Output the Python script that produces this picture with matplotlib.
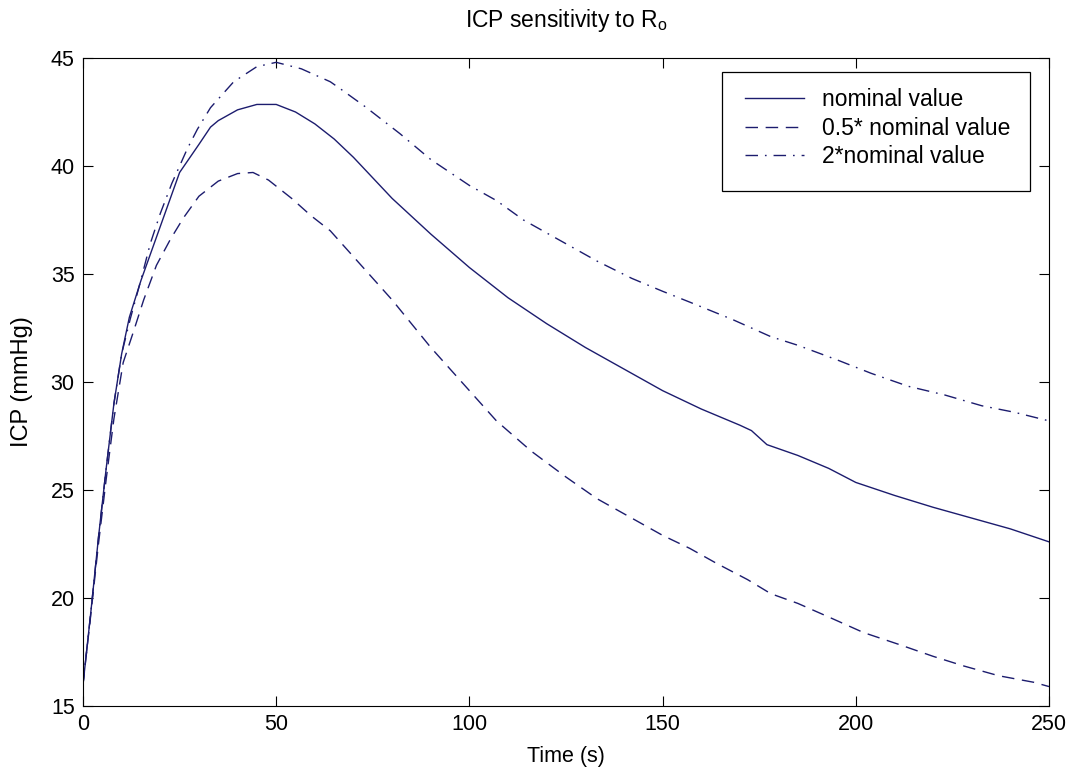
import matplotlib
matplotlib.use("Agg")
import matplotlib.pyplot as plt
from matplotlib.patches import Rectangle

plt.rcParams['font.family'] = ['Liberation Sans', 'DejaVu Sans']
plt.rcParams['mathtext.fontset'] = 'custom'
plt.rcParams['mathtext.rm'] = 'Liberation Sans'
plt.rcParams['mathtext.it'] = 'Liberation Sans'

# ---- data ----
t_nominal = [0, 2, 4, 6, 8, 10, 12, 15, 18, 21, 25, 30, 33, 35, 40, 45, 50, 55, 60, 65,
             70, 80, 90, 100, 110, 120, 130, 140, 150, 160, 170, 173, 177, 185, 193,
             200, 210, 220, 230, 240, 250]
icp_nominal = [16.0, 19.3, 22.8, 26.0, 29.0, 31.3, 33.0, 34.7, 36.2, 37.7, 39.7, 41.0, 41.8,
               42.1, 42.6, 42.85, 42.85, 42.5, 41.95, 41.25, 40.4, 38.5, 36.85, 35.3, 33.9,
               32.7, 31.6, 30.6, 29.6, 28.75, 28.0, 27.75, 27.1, 26.6, 26.0, 25.35, 24.75,
               24.2, 23.7, 23.2, 22.6]

t_half = [0, 2, 4, 6, 8, 10.4, 13, 15.7, 19, 22.6, 26, 30, 35, 40, 44, 48, 54, 59, 64,
          70, 80, 90, 100, 107, 116, 125, 133, 142, 150, 157, 164, 172, 178, 185,
          194, 202, 211, 220, 228, 237, 246, 250]
icp_half = [16.0, 19.2, 22.5, 25.5, 28.3, 30.9, 32.3, 33.8, 35.4, 36.6, 37.6, 38.6, 39.3,
            39.65, 39.7, 39.35, 38.5, 37.7, 37.0, 35.8, 33.8, 31.6, 29.6, 28.2, 26.8,
            25.6, 24.6, 23.7, 22.9, 22.3, 21.6, 20.85, 20.2, 19.75, 19.04, 18.4, 17.86,
            17.3, 16.85, 16.4, 16.1, 15.9]

t_double = [0, 2, 4, 6, 8, 10, 12.2, 14.8, 17.4, 20, 23, 27, 29.6, 33, 36.5, 39, 45, 50,
            56.5, 64, 66.4, 73, 82, 90, 100, 107, 114, 125, 133, 142, 150, 157, 168, 178,
            185, 195.5, 204, 213.6, 223, 232.6, 241, 250]
icp_double = [16.0, 19.3, 22.8, 26.0, 29.0, 31.3, 32.9, 34.6, 36.4, 37.8, 39.2, 40.8, 41.7,
              42.7, 43.4, 43.9, 44.6, 44.8, 44.5, 43.9, 43.6, 42.75, 41.5, 40.3, 39.1, 38.4,
              37.5, 36.4, 35.6, 34.8, 34.2, 33.7, 32.9, 32.1, 31.7, 31.0, 30.4, 29.8, 29.4,
              28.9, 28.6, 28.2]

labels = ['nominal value', '0.5* nominal value', '2*nominal value']
x_ticks = [0, 50, 100, 150, 200, 250]
y_ticks = [15, 20, 25, 30, 35, 40, 45]

# ---- figure ----
W, H = 1071, 775
AX_L, AX_R, AX_T, AX_B = 83, 1049, 58, 706
AW, AH = AX_R - AX_L, AX_B - AX_T
fig = plt.figure(figsize=(W / 100, H / 100), dpi=100)
ax = fig.add_axes([AX_L / W, 1 - AX_B / H, AW / W, AH / H])

color = '#1c1c6e'
lw = 1.0
l1, = ax.plot(t_nominal, icp_nominal, color=color, lw=lw, linestyle='-')
l2, = ax.plot(t_half, icp_half, color=color, lw=lw, linestyle=(0, (9, 5.5)))
l3, = ax.plot(t_double, icp_double, color=color, lw=lw, linestyle=(0, (9, 5, 1.2, 5)))

ax.set_xlim(0, 250)
ax.set_ylim(15, 45)
ax.set_xticks(x_ticks)
ax.set_yticks(y_ticks)
fs = 15.5
fs_big = 16.5
ax.tick_params(direction='in', length=7.5, width=0.8, top=True, right=True,
               labelsize=fs, pad=6, colors='black')
for s in ax.spines.values():
    s.set_linewidth(0.8)
    s.set_color('black')

ax.set_xlabel('Time (s)', fontsize=fs, labelpad=8)
ax.set_ylabel('ICP (mmHg)', fontsize=17)
ax.yaxis.set_label_coords(-(AX_L - 22) / AW, 0.5)
ax.yaxis.label.set_va('center')
fig.text((AX_L + AX_R) / 2 / W, 1 - 27 / H, r'ICP sensitivity to R$_\mathrm{o}$',
         fontsize=fs_big, ha='center', va='baseline')

# legend box (MATLAB style, with extra space at bottom)
x0, x1 = (722 - AX_L) / AW, (1030 - AX_L) / AW
yt, yb = 1 - (72 - AX_T) / AH, 1 - (191 - AX_T) / AH
ax.add_patch(Rectangle((x0, yb), x1 - x0, yt - yb, transform=ax.transAxes,
                       facecolor='white', edgecolor='black', lw=0.9, zorder=5))
leg = ax.legend([l1, l2, l3], labels, loc='upper left',
                bbox_to_anchor=((738 - AX_L) / AW, 1 - (81 - AX_T) / AH), frameon=False,
                fontsize=fs_big, handlelength=2.6, handletextpad=0.75, labelspacing=0.25,
                borderaxespad=0.0, borderpad=0.3)
leg.set_zorder(6)

fig.savefig('out.png', dpi=100)
